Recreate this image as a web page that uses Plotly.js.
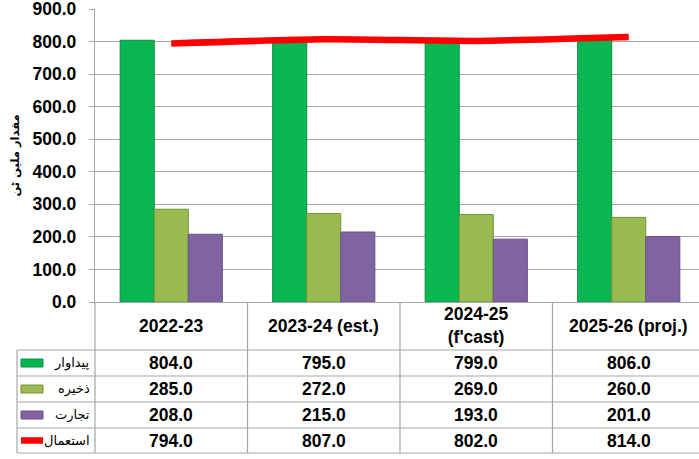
<!DOCTYPE html>
<html><head><meta charset="utf-8">
<script src="https://cdn.plot.ly/plotly-3.0.1.min.js"></script>
<style>html,body{margin:0;padding:0;background:#fff}#c{width:699px;height:459px}</style>
</head><body><div id="c"></div>
<script>
const categories = ["2022-23", "2023-24 (est.)", "2024-25<br>(f'cast)", "2025-26 (proj.)"];
const production = [804.0, 795.0, 799.0, 806.0];
const stocks = [285.0, 272.0, 269.0, 260.0];
const trade = [208.0, 215.0, 193.0, 201.0];
const consumption = [794.0, 807.0, 802.0, 814.0];
const seriesNames = ["پیداوار", "ذخیره", "تجارت", "استعمال"];
const yTitle = "مقدار ملین ٹن";

const W = 699, H = 459;
const L = 95, T = 9, B = 302, R = 699;
const catW = 152.5;
const xMax = -0.5 + (R - L) / catW;
const px = p => (p - L) / (R - L);
const py = p => (B - p) / (B - T);
const gridCol = "#A6A6A6";
const bold = {family: "Liberation Sans, Arial, sans-serif", size: 17.5, color: "#000", weight: "bold"};
const xs = categories.map((c, i) => i);

const colors = ["#08B752", "#98BA4E", "#8064A2"];
const lineCols = ["#0A8F42", "#76923C", "#6A5088"];
const vals = [production, stocks, trade];
const traces = vals.map((v, k) => ({
  type: "bar", x: xs, y: v, name: seriesNames[k],
  marker: {color: colors[k], line: {color: lineCols[k], width: 1}},
  hoverinfo: "skip"
}));
traces.push({
  type: "scatter", mode: "lines", x: xs, y: consumption, name: seriesNames[3],
  line: {color: "#FF0000", width: 6.5, shape: "spline", smoothing: 0.6},
  hoverinfo: "skip"
});

const shapes = [];
const annotations = [];
const rowTop = [350, 376, 402, 428];
const rowBot = 453;
const lineShape = (x0, y0, x1, y1) => ({type: "line", xref: "paper", yref: "paper",
  x0: px(x0), y0: py(y0), x1: px(x1), y1: py(y1), line: {color: gridCol, width: 1.2}});
rowTop.concat([rowBot]).forEach(y => shapes.push(lineShape(17, y, R, y)));
shapes.push(lineShape(17, 350, 17, rowBot));
shapes.push(lineShape(L, B, L, rowBot));
for (let i = 1; i < categories.length; i++) {
  const xpx = L + i * catW;
  shapes.push(lineShape(xpx, B, xpx, rowBot));
}
categories.forEach((c, i) => {
  annotations.push({xref: "x", yref: "paper", x: i, y: py(326), text: c, showarrow: false,
    font: bold, xanchor: "center", yanchor: "middle"});
});
const allSeries = [production, stocks, trade, consumption];
allSeries.forEach((s, r) => {
  const yc = (rowTop[r] + (r < 3 ? rowTop[r + 1] : rowBot)) / 2;
  s.forEach((v, i) => {
    annotations.push({xref: "x", yref: "paper", x: i, y: py(yc), text: v.toFixed(1), showarrow: false,
      font: bold, xanchor: "center", yanchor: "middle"});
  });
  annotations.push({xref: "paper", yref: "paper", x: px(92), y: py(yc), text: seriesNames[r], showarrow: false,
    font: {family: "DejaVu Sans, sans-serif", size: 13, color: "#000"}, xanchor: "right", yanchor: "middle"});
  if (r < 3) {
    shapes.push({type: "rect", xref: "paper", yref: "paper", x0: px(21), x1: px(43), y0: py(yc - 4), y1: py(yc + 4),
      fillcolor: colors[r], line: {color: lineCols[r], width: 1}});
  } else {
    shapes.push({type: "line", xref: "paper", yref: "paper", x0: px(21), x1: px(43), y0: py(yc), y1: py(yc),
      line: {color: "#FF0000", width: 6.5}});
  }
});

const layout = {
  width: W, height: H,
  margin: {l: L, r: W - R, t: T, b: H - B, pad: 0},
  paper_bgcolor: "#fff", plot_bgcolor: "#fff",
  showlegend: false,
  barmode: "group", bargap: 0.33, bargroupgap: 0,
  xaxis: {range: [-0.5, xMax], showticklabels: false, showgrid: false, zeroline: false,
    showline: true, linecolor: gridCol, linewidth: 1.2, ticks: "", fixedrange: true},
  yaxis: {range: [0, 900], dtick: 100, tickformat: ".1f", showgrid: true, gridcolor: gridCol, gridwidth: 1.2,
    zeroline: false, showline: true, linecolor: gridCol, linewidth: 1.2, ticks: "outside", ticklen: 5,
    tickcolor: gridCol, tickfont: bold, ticklabelstandoff: 9, ticklabeloverflow: "allow",
    title: {text: yTitle, font: {family: "DejaVu Sans, sans-serif", size: 11.5, color: "#000", weight: "bold"}, standoff: 10},
    fixedrange: true},
  shapes: shapes, annotations: annotations
};
Plotly.newPlot("c", traces, layout, {displayModeBar: false, staticPlot: true});
</script></body></html>
